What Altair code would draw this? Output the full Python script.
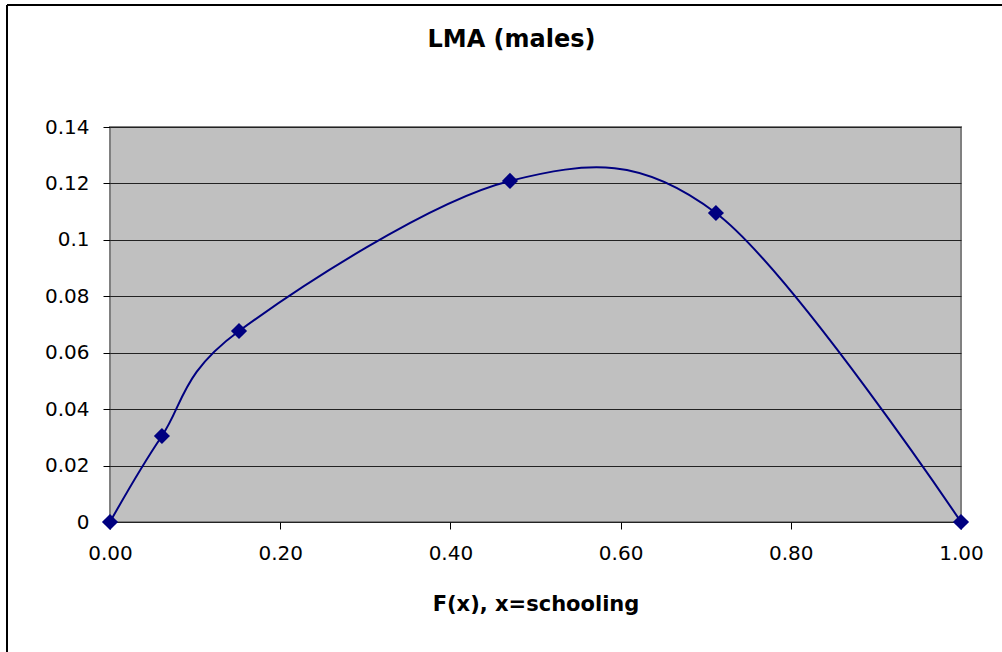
import altair as alt
import pandas as pd

# Data
fx_values = [0.0, 0.061, 0.1516, 0.470, 0.712, 1.0]
lma_values = [0.0, 0.0305, 0.0677, 0.1209, 0.1095, 0.0]
x_ticks = [0.0, 0.2, 0.4, 0.6, 0.8, 1.0]
y_ticks = [0.0, 0.02, 0.04, 0.06, 0.08, 0.10, 0.12, 0.14]

df = pd.DataFrame({"fx": fx_values, "lma": lma_values})

FONT = "DejaVu Sans"
NAVY = "#000080"

x_enc = alt.X(
    "fx:Q",
    scale=alt.Scale(domain=[0, 1], nice=False, zero=False),
    axis=alt.Axis(
        values=x_ticks,
        format=".2f",
        title="F(x), x=schooling",
        grid=False,
        domain=False,
        tickSize=7,
        tickColor="#000000",
        labelFontSize=20,
        labelFont=FONT,
        labelColor="#000000",
        labelPadding=14,
        labelFlush=False,
        titleFont=FONT,
        titleFontSize=21,
        titleFontWeight="bold",
        titleColor="#000000",
        titleBaseline="alphabetic",
        titleY=88,
    ),
)
y_enc = alt.Y(
    "lma:Q",
    scale=alt.Scale(domain=[0, 0.14], nice=False),
    axis=alt.Axis(
        values=y_ticks,
        format="~g",
        title=None,
        grid=True,
        gridColor="#222222",
        gridWidth=1,
        domain=False,
        tickSize=7,
        tickColor="#000000",
        labelFontSize=20,
        labelFont=FONT,
        labelColor="#000000",
        labelPadding=14,
    ),
)

line = alt.Chart(df).mark_line(
    color=NAVY, strokeWidth=2, interpolate="cardinal"
).encode(x=x_enc, y=y_enc)

points = alt.Chart(df).mark_point(
    shape="diamond", filled=True, color=NAVY, size=260, opacity=1
).encode(x="fx:Q", y="lma:Q")

# outer frame of the chart (decoration)
frame_left = alt.Chart(df).mark_rule(color="#000000", strokeWidth=2, clip=False).encode(
    x=alt.value(-103), y=alt.value(-122), y2=alt.value(560)
)
frame_top = alt.Chart(df).mark_rule(color="#000000", strokeWidth=2, clip=False).encode(
    x=alt.value(-103), x2=alt.value(950), y=alt.value(-122)
)

chart = (
    alt.layer(line, points, frame_left, frame_top)
    .properties(
        width=851,
        height=395,
        title=alt.TitleParams(
            "LMA (males)",
            font=FONT,
            fontSize=24,
            fontWeight="bold",
            color="#000000",
            anchor="middle",
            frame="group",
            baseline="alphabetic",
            offset=-67,
            dx=-24,
        ),
        autosize=alt.AutoSizeParams(type="none"),
        padding={"left": 110, "top": 127, "right": 41, "bottom": 130},
        background="#FFFFFF",
    )
    .configure_view(fill="#C0C0C0", stroke="#808080", strokeWidth=2)
)

chart.save("out.html", embed_options={"renderer": "svg", "actions": False})
